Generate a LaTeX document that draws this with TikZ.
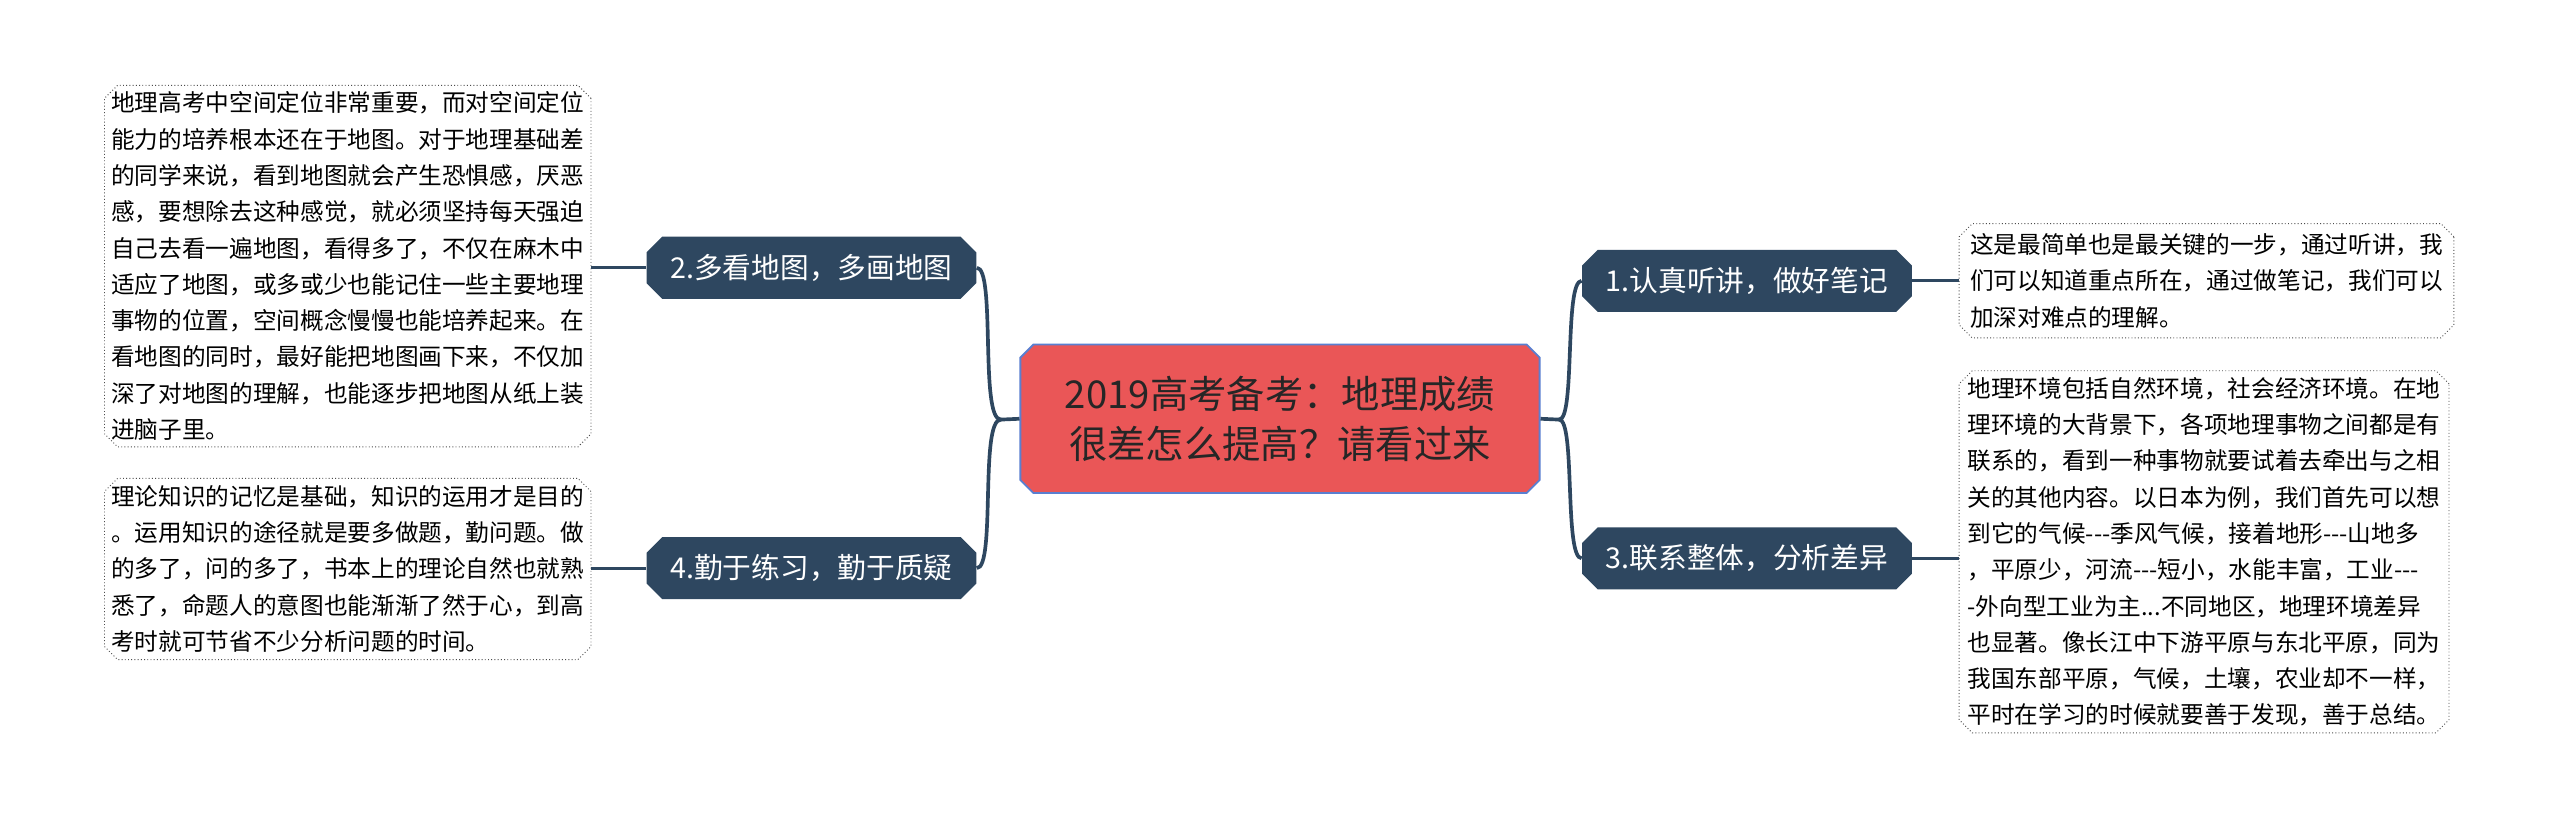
\documentclass[tikz,border=0pt]{standalone}
\usepackage{fontspec}
\setmainfont{Noto Sans CJK SC}
\usetikzlibrary{shapes.misc}
\definecolor{dk}{HTML}{2E4760}
\definecolor{cred}{HTML}{EA5657}
\definecolor{cblue}{HTML}{5A7FD0}
\newcommand{\tdash}{{-}{-}{-}}
\tikzset{
 x=0.025cm,y=-0.025cm,
 branch/.style={chamfered rectangle,chamfered rectangle xsep=2cm,chamfered rectangle sep=0.12cm,fill=dk,text=white,font=\fontsize{12.5}{15}\selectfont,minimum width=202*0.025cm,minimum height=38*0.025cm,inner sep=0pt},
 leaf/.style={chamfered rectangle,chamfered rectangle xsep=2cm,chamfered rectangle sep=0.1cm,draw=black!70,densely dotted,thin,font=\fontsize{10.3}{15.8}\selectfont,align=left,inner sep=0pt},
 conn/.style={draw=dk,line width=1.6pt},
 lconn/.style={draw=dk,line width=1.2pt}
}
\begin{document}
\begin{tikzpicture}
\useasboundingbox (0,0) rectangle (1568,504);
\fill[white] (0,0) rectangle (1568,504);
\node[chamfered rectangle,chamfered rectangle xsep=2cm,chamfered rectangle sep=0.1cm,fill=cred,draw=cblue,line width=0.8pt,minimum width=318*0.025cm,minimum height=91*0.025cm,align=center,font=\fontsize{16.7}{22}\selectfont,text=black!85] (c) at (784,256.5) {2019高考备考：地理成绩\\很差怎么提高？请看过来};
\node[branch] (b2) at (497,164) {2.多看地图，多画地图};
\node[branch] (b4) at (497,348) {4.勤于练习，勤于质疑};
\node[branch] (b1) at (1070,172) {1.认真听讲，做好笔记};
\node[branch] (b3) at (1070,342) {3.联系整体，分析差异};
\node[leaf,minimum width=298*0.025cm,minimum height=202*0.025cm] (l2) at (213,163) {地理高考中空间定位非常重要，而对空间定位\\能力的培养根本还在于地图。对于地理基础差\\的同学来说，看到地图就会产生恐惧感，厌恶\\感，要想除去这种感觉，就必须坚持每天强迫\\自己去看一遍地图，看得多了，不仅在麻木中\\适应了地图，或多或少也能记住一些主要地理\\事物的位置，空间概念慢慢也能培养起来。在\\看地图的同时，最好能把地图画下来，不仅加\\深了对地图的理解，也能逐步把地图从纸上装\\进脑子里。};
\node[leaf,minimum width=298*0.025cm,minimum height=111*0.025cm] (l4) at (213,348.5) {理论知识的记忆是基础，知识的运用才是目的\\。运用知识的途径就是要多做题，勤问题。做\\的多了，问的多了，书本上的理论自然也就熟\\悉了，命题人的意图也能渐渐了然于心，到高\\考时就可节省不少分析问题的时间。};
\node[leaf,minimum width=303*0.025cm,minimum height=70*0.025cm] (l1) at (1351.5,172) {这是最简单也是最关键的一步，通过听讲，我\\们可以知道重点所在，通过做笔记，我们可以\\加深对难点的理解。};
\node[leaf,minimum width=300*0.025cm,minimum height=204*0.025cm] (l3) at (1350,338) {地理环境包括自然环境，社会经济环境。在地\\理环境的大背景下，各项地理事物之间都是有\\联系的，看到一种事物就要试着去牵出与之相\\关的其他内容。以日本为例，我们首先可以想\\到它的气候\tdash 季风气候，接着地形\tdash 山地多\\，平原少，河流\tdash 短小，水能丰富，工业\tdash \\-外向型工业为主...不同地区，地理环境差异\\也显著。像长江中下游平原与东北平原，同为\\我国东部平原，气候，土壤，农业却不一样，\\平时在学习的时候就要善于发现，善于总结。};
\coordinate (hl) at (613,257);
\coordinate (hr) at (955,257);
\draw[conn] (hl) -- (c.west);
\draw[conn] (hr) -- (c.east);
\draw[conn] (hl) .. controls (600,257) and (610,164) .. (b2.east);
\draw[conn] (hl) .. controls (600,257) and (610,348) .. (b4.east);
\draw[conn] (hr) .. controls (965,257) and (958,172) .. (b1.west);
\draw[conn] (hr) .. controls (965,257) and (958,342) .. (b3.west);
\draw[lconn] (b2.west) -- (l2.east|-b2.west);
\draw[lconn] (b4.west) -- (l4.east|-b4.west);
\draw[lconn] (b1.east) -- (l1.west|-b1.east);
\draw[lconn] (b3.east) -- (l3.west|-b3.east);
\end{tikzpicture}
\end{document}
